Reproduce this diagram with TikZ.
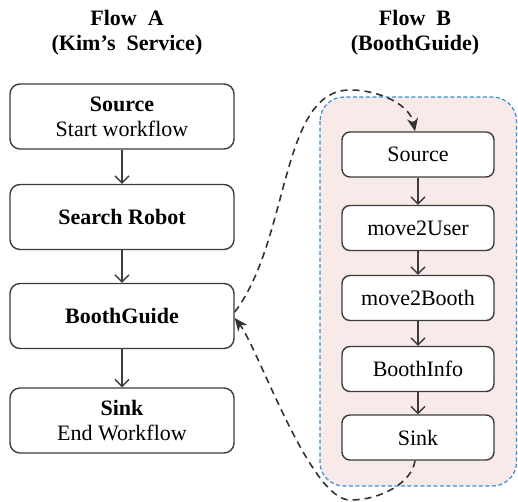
\documentclass[tikz,border=0pt]{standalone}
\usepackage{fontspec}
\setmainfont{Liberation Serif}
\usetikzlibrary{arrows.meta}

\definecolor{boxline}{HTML}{3C3C3C}
\definecolor{groupline}{HTML}{3A8FD6}
\definecolor{groupfill}{HTML}{F8EAE9}
\definecolor{linkline}{HTML}{333333}

\begin{document}
\begin{tikzpicture}[x=1pt,y=-1pt,
  txt/.style={font=\fontsize{22}{25}\selectfont},
  bigbox/.style={txt, draw=boxline, line width=1.4pt, fill=white, rounded corners=10pt,
    minimum width=224pt, minimum height=65pt, align=center, inner sep=0pt},
  smallbox/.style={txt, draw=boxline, line width=1.4pt, fill=white, rounded corners=8pt,
    minimum width=152pt, minimum height=45pt, align=center, inner sep=0pt},
  title/.style={font=\bfseries\fontsize{22}{25}\selectfont, align=center},
  flow/.style={draw=boxline, line width=1.3pt, -{Straight Barb[length=7pt,width=14pt]}},
  link/.style={draw=linkline, line width=1.6pt, dash pattern=on 7pt off 5pt,
    -{Stealth[length=13pt,width=11pt,inset=4pt]}}
]
\useasboundingbox (0,0) rectangle (518,501);

% column titles
\node[title] (tA) at (127,33) {Flow\enspace A\\(Kim’s\enspace Service)};
\node[title] (tB) at (415,33) {Flow\enspace B\\(BoothGuide)};

% group behind Flow B
\draw[groupline, fill=groupfill, line width=1.2pt, dash pattern=on 4pt off 2.5pt,
  rounded corners=24pt] (320,97) rectangle (516.5,486);

% Flow A
\node[bigbox] (asrc)  at (122,116.5) {\textbf{Source}\\Start workflow};
\node[bigbox] (arob)  at (122,217)   {\textbf{Search Robot}};
\node[bigbox] (abg)   at (122,316)   {\textbf{BoothGuide}};
\node[bigbox] (asink) at (122,420.5) {\textbf{Sink}\\End Workflow};

% Flow B
\node[smallbox] (bsrc)   at (418,154.5) {Source};
\node[smallbox] (buser)  at (418,228)   {move2User};
\node[smallbox] (bbooth) at (418,298)   {move2Booth};
\node[smallbox] (binfo)  at (418,369)   {BoothInfo};
\node[smallbox] (bsink)  at (418,437.5) {Sink};

% sequence arrows
\draw[flow] (asrc) -- (arob);
\draw[flow] (arob) -- (abg);
\draw[flow] (abg) -- (asink);
\draw[flow] (bsrc) -- (buser);
\draw[flow] (buser) -- (bbooth);
\draw[flow] (bbooth) -- (binfo);
\draw[flow] (binfo) -- (bsink);

% call into Flow B and return
\coordinate (top) at (350,90);
\coordinate (bot) at (350,500);
\draw[link] ([yshift=4pt]abg.east) .. controls (290,240) and (280,90) .. (top)
  .. controls (380,90) and (410,105) .. ([xshift=-3pt]bsrc.north);
\draw[link] ([xshift=-3pt]bsink.south) .. controls (412,482) and (382,500) .. (bot)
  .. controls (310,500) and (258,348) .. ([yshift=-2pt]abg.east);
\end{tikzpicture}
\end{document}
